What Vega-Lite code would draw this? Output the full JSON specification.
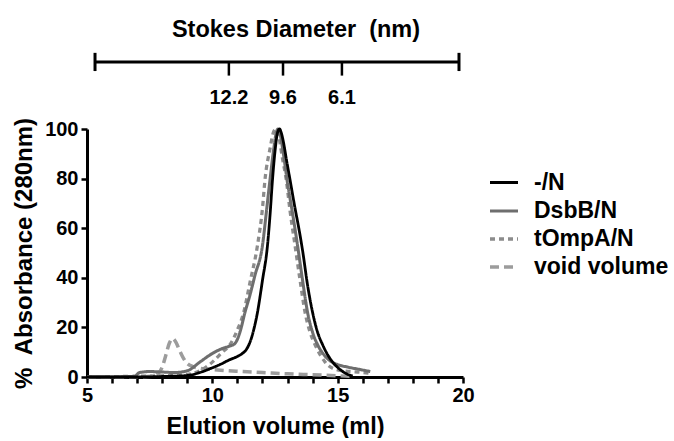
{
  "$schema": "https://vega.github.io/schema/vega-lite/v6.json",
  "background": "white",
  "padding": {"left": 12, "top": 17, "right": 0, "bottom": 0},
  "config": {
    "font": "Liberation Sans",
    "view": {"stroke": null},
    "axis": {
      "grid": false,
      "domainColor": "black",
      "domainWidth": 3,
      "tickColor": "black",
      "tickWidth": 2.5,
      "tickSize": 6,
      "labelColor": "black",
      "labelFont": "Liberation Sans",
      "labelFontWeight": "bold",
      "labelFontSize": 20,
      "titleColor": "black",
      "titleFont": "Liberation Sans",
      "titleFontWeight": "bold",
      "titleFontSize": 23
    }
  },
  "datasets": {
    "curves": [
      {"s": "void volume", "v": 5, "a": 0},
      {"s": "void volume", "v": 6, "a": 0},
      {"s": "void volume", "v": 7, "a": 0.1},
      {"s": "void volume", "v": 7.6, "a": 0.3},
      {"s": "void volume", "v": 7.85, "a": 1.5},
      {"s": "void volume", "v": 8.0, "a": 4},
      {"s": "void volume", "v": 8.15, "a": 9},
      {"s": "void volume", "v": 8.28, "a": 13.5},
      {"s": "void volume", "v": 8.42, "a": 15.5},
      {"s": "void volume", "v": 8.55, "a": 14},
      {"s": "void volume", "v": 8.7, "a": 10.5},
      {"s": "void volume", "v": 8.85, "a": 7.5},
      {"s": "void volume", "v": 9.0, "a": 5.5},
      {"s": "void volume", "v": 9.2, "a": 4.3},
      {"s": "void volume", "v": 9.5, "a": 3.5},
      {"s": "void volume", "v": 10.0, "a": 3},
      {"s": "void volume", "v": 11.0, "a": 2.3},
      {"s": "void volume", "v": 12.0, "a": 1.8},
      {"s": "void volume", "v": 13.0, "a": 1.3},
      {"s": "void volume", "v": 14.0, "a": 0.9},
      {"s": "void volume", "v": 15.0, "a": 0.5},
      {"s": "void volume", "v": 15.5, "a": 0.3},

      {"s": "tOmpA/N", "v": 5, "a": 0},
      {"s": "tOmpA/N", "v": 7, "a": 0.3},
      {"s": "tOmpA/N", "v": 8, "a": 0.5},
      {"s": "tOmpA/N", "v": 9, "a": 1},
      {"s": "tOmpA/N", "v": 9.5, "a": 2.5},
      {"s": "tOmpA/N", "v": 10, "a": 6},
      {"s": "tOmpA/N", "v": 10.4, "a": 10},
      {"s": "tOmpA/N", "v": 10.7, "a": 13},
      {"s": "tOmpA/N", "v": 11.0, "a": 19},
      {"s": "tOmpA/N", "v": 11.25, "a": 26},
      {"s": "tOmpA/N", "v": 11.5, "a": 38},
      {"s": "tOmpA/N", "v": 11.8, "a": 53},
      {"s": "tOmpA/N", "v": 12.0, "a": 68},
      {"s": "tOmpA/N", "v": 12.1, "a": 79.5},
      {"s": "tOmpA/N", "v": 12.3, "a": 92},
      {"s": "tOmpA/N", "v": 12.45, "a": 99},
      {"s": "tOmpA/N", "v": 12.55, "a": 100},
      {"s": "tOmpA/N", "v": 12.65, "a": 97},
      {"s": "tOmpA/N", "v": 12.8, "a": 88},
      {"s": "tOmpA/N", "v": 12.95, "a": 79.5},
      {"s": "tOmpA/N", "v": 13.1, "a": 67},
      {"s": "tOmpA/N", "v": 13.3, "a": 53},
      {"s": "tOmpA/N", "v": 13.5, "a": 39},
      {"s": "tOmpA/N", "v": 13.7, "a": 26},
      {"s": "tOmpA/N", "v": 13.9, "a": 18},
      {"s": "tOmpA/N", "v": 14.1, "a": 13},
      {"s": "tOmpA/N", "v": 14.3, "a": 9},
      {"s": "tOmpA/N", "v": 14.5, "a": 6},
      {"s": "tOmpA/N", "v": 14.8, "a": 3.5},
      {"s": "tOmpA/N", "v": 15.2, "a": 2.5},
      {"s": "tOmpA/N", "v": 15.8, "a": 2},
      {"s": "tOmpA/N", "v": 16.3, "a": 1.5},

      {"s": "DsbB/N", "v": 5, "a": 0},
      {"s": "DsbB/N", "v": 6, "a": 0},
      {"s": "DsbB/N", "v": 6.9, "a": 0.3},
      {"s": "DsbB/N", "v": 7.1, "a": 1.8},
      {"s": "DsbB/N", "v": 7.5, "a": 2.2},
      {"s": "DsbB/N", "v": 8.0, "a": 2},
      {"s": "DsbB/N", "v": 8.5, "a": 1.8},
      {"s": "DsbB/N", "v": 9.0, "a": 2.5},
      {"s": "DsbB/N", "v": 9.5, "a": 6},
      {"s": "DsbB/N", "v": 10.0, "a": 9.5},
      {"s": "DsbB/N", "v": 10.4, "a": 11.5},
      {"s": "DsbB/N", "v": 10.7, "a": 12.5},
      {"s": "DsbB/N", "v": 10.9, "a": 13.5},
      {"s": "DsbB/N", "v": 11.1, "a": 18},
      {"s": "DsbB/N", "v": 11.3, "a": 26},
      {"s": "DsbB/N", "v": 11.5, "a": 33},
      {"s": "DsbB/N", "v": 11.7, "a": 41},
      {"s": "DsbB/N", "v": 12.0, "a": 53},
      {"s": "DsbB/N", "v": 12.15, "a": 66},
      {"s": "DsbB/N", "v": 12.3, "a": 79.5},
      {"s": "DsbB/N", "v": 12.45, "a": 92},
      {"s": "DsbB/N", "v": 12.55, "a": 98.5},
      {"s": "DsbB/N", "v": 12.62, "a": 100},
      {"s": "DsbB/N", "v": 12.7, "a": 98},
      {"s": "DsbB/N", "v": 12.85, "a": 89},
      {"s": "DsbB/N", "v": 12.98, "a": 79.5},
      {"s": "DsbB/N", "v": 13.2, "a": 66},
      {"s": "DsbB/N", "v": 13.4, "a": 53},
      {"s": "DsbB/N", "v": 13.6, "a": 39},
      {"s": "DsbB/N", "v": 13.8, "a": 26},
      {"s": "DsbB/N", "v": 14.0, "a": 18},
      {"s": "DsbB/N", "v": 14.2, "a": 13},
      {"s": "DsbB/N", "v": 14.45, "a": 9},
      {"s": "DsbB/N", "v": 14.7, "a": 6.5},
      {"s": "DsbB/N", "v": 15.0, "a": 5},
      {"s": "DsbB/N", "v": 15.4, "a": 4},
      {"s": "DsbB/N", "v": 15.9, "a": 3},
      {"s": "DsbB/N", "v": 16.3, "a": 2.2},

      {"s": "-/N", "v": 5, "a": 0},
      {"s": "-/N", "v": 6, "a": 0},
      {"s": "-/N", "v": 7, "a": 0},
      {"s": "-/N", "v": 8, "a": 0.2},
      {"s": "-/N", "v": 9, "a": 0.6},
      {"s": "-/N", "v": 9.5, "a": 1.8},
      {"s": "-/N", "v": 9.9, "a": 3.3},
      {"s": "-/N", "v": 10.3, "a": 5},
      {"s": "-/N", "v": 10.7, "a": 7},
      {"s": "-/N", "v": 11.0, "a": 8.3},
      {"s": "-/N", "v": 11.2, "a": 9.5},
      {"s": "-/N", "v": 11.35, "a": 11},
      {"s": "-/N", "v": 11.5, "a": 14},
      {"s": "-/N", "v": 11.65, "a": 19},
      {"s": "-/N", "v": 11.8, "a": 26},
      {"s": "-/N", "v": 12.0, "a": 39},
      {"s": "-/N", "v": 12.2, "a": 53},
      {"s": "-/N", "v": 12.3, "a": 65},
      {"s": "-/N", "v": 12.4, "a": 79.5},
      {"s": "-/N", "v": 12.5, "a": 91},
      {"s": "-/N", "v": 12.6, "a": 98.5},
      {"s": "-/N", "v": 12.68, "a": 100},
      {"s": "-/N", "v": 12.75, "a": 98.5},
      {"s": "-/N", "v": 12.85, "a": 94},
      {"s": "-/N", "v": 12.95, "a": 88},
      {"s": "-/N", "v": 13.1, "a": 79.5},
      {"s": "-/N", "v": 13.3, "a": 68},
      {"s": "-/N", "v": 13.45, "a": 60},
      {"s": "-/N", "v": 13.6, "a": 51},
      {"s": "-/N", "v": 13.8, "a": 37},
      {"s": "-/N", "v": 14.0, "a": 26},
      {"s": "-/N", "v": 14.2, "a": 18},
      {"s": "-/N", "v": 14.4, "a": 13},
      {"s": "-/N", "v": 14.6, "a": 9},
      {"s": "-/N", "v": 14.8, "a": 6},
      {"s": "-/N", "v": 15.1, "a": 3},
      {"s": "-/N", "v": 15.35, "a": 1.3},
      {"s": "-/N", "v": 15.6, "a": 0.4}
    ],
    "stokes": [
      {"v": 10.66, "d": "12.2"},
      {"v": 12.82, "d": "9.6"},
      {"v": 15.17, "d": "6.1"}
    ],
    "stokesEnds": [{"v": 5.32}, {"v": 19.84}],
    "stokesSpan": [{"from": 5.32, "to": 19.84}]
  },
  "bounds": "flush",
  "spacing": 17,
  "vconcat": [
    {
      "width": 376,
      "height": 65,
      "title": {
        "text": "Stokes Diameter\u00a0 (nm)",
        "font": "Liberation Sans",
        "fontSize": 23.5,
        "fontWeight": "bold",
        "color": "black",
        "anchor": "middle",
        "dx": 21,
        "offset": -13,
        "baseline": "alphabetic"
      },
      "layer": [
        {
          "data": {"name": "stokesSpan"},
          "mark": {"type": "rule", "color": "black", "strokeWidth": 3},
          "encoding": {
            "x": {"field": "from", "type": "quantitative", "scale": {"domain": [5, 20], "nice": false}, "axis": null},
            "x2": {"field": "to"},
            "y": {"datum": 0.77, "type": "quantitative", "scale": {"domain": [0, 1], "nice": false}, "axis": null}
          }
        },
        {
          "data": {"name": "stokesEnds"},
          "mark": {"type": "rule", "color": "black", "strokeWidth": 3},
          "encoding": {
            "x": {"field": "v", "type": "quantitative", "scale": {"domain": [5, 20], "nice": false}, "axis": null},
            "y": {"datum": 0.91, "type": "quantitative", "scale": {"domain": [0, 1], "nice": false}, "axis": null},
            "y2": {"datum": 0.63}
          }
        },
        {
          "data": {"name": "stokes"},
          "mark": {"type": "rule", "color": "black", "strokeWidth": 2.5},
          "encoding": {
            "x": {"field": "v", "type": "quantitative", "scale": {"domain": [5, 20], "nice": false}, "axis": null},
            "y": {"datum": 0.77, "type": "quantitative", "scale": {"domain": [0, 1], "nice": false}, "axis": null},
            "y2": {"datum": 0.56}
          }
        },
        {
          "data": {"name": "stokes"},
          "mark": {"type": "text", "font": "Liberation Sans", "fontSize": 20, "fontWeight": "bold", "color": "black", "baseline": "middle", "align": "center"},
          "encoding": {
            "x": {"field": "v", "type": "quantitative", "scale": {"domain": [5, 20], "nice": false}, "axis": null},
            "y": {"datum": 0.21, "type": "quantitative", "scale": {"domain": [0, 1], "nice": false}, "axis": null},
            "text": {"field": "d"}
          }
        }
      ]
    },
    {
      "width": 376,
      "height": 248,
      "data": {"name": "curves"},
      "mark": {"type": "line", "interpolate": "monotone", "strokeCap": "butt"},
      "encoding": {
        "x": {
          "field": "v",
          "type": "quantitative",
          "scale": {"domain": [5, 20], "nice": false},
          "axis": {
            "values": [5, 6, 7, 8, 9, 10, 11, 12, 13, 14, 15, 16, 17, 18, 19, 20],
            "labelExpr": "datum.value % 5 === 0 ? datum.label : ''",
            "title": "Elution volume (ml)",
            "titleFontSize": 23.5,
            "labelPadding": 2,
            "titlePadding": 9,
            "labelFlush": false
          }
        },
        "y": {
          "field": "a",
          "type": "quantitative",
          "scale": {"domain": [0, 100], "nice": false},
          "axis": {
            "values": [0, 20, 40, 60, 80, 100],
            "title": "%\u00a0 Absorbance (280nm)",
            "titleFontSize": 24,
            "labelPadding": 3,
            "titlePadding": 8
          }
        },
        "color": {
          "field": "s",
          "type": "nominal",
          "scale": {
            "domain": ["-/N", "DsbB/N", "tOmpA/N", "void volume"],
            "range": ["#000000", "#6e6e6e", "#8c8c8c", "#9c9c9c"]
          },
          "legend": {
            "orient": "none",
            "legendX": 401,
            "legendY": 120,
            "title": null,
            "labelFont": "Liberation Sans",
            "labelFontSize": 23,
            "labelFontWeight": "bold",
            "labelColor": "black",
            "symbolType": "stroke",
            "symbolSize": 784,
            "symbolStrokeWidth": 3,
            "labelOffset": 14,
            "rowPadding": 0
          }
        },
        "strokeDash": {
          "field": "s",
          "type": "nominal",
          "scale": {
            "domain": ["-/N", "DsbB/N", "tOmpA/N", "void volume"],
            "range": [[1, 0], [1, 0], [5, 4], [9, 5]]
          },
          "legend": {
            "orient": "none",
            "legendX": 401,
            "legendY": 120,
            "title": null,
            "labelFont": "Liberation Sans",
            "labelFontSize": 23,
            "labelFontWeight": "bold",
            "labelColor": "black",
            "symbolType": "stroke",
            "symbolSize": 784,
            "symbolStrokeWidth": 3,
            "labelOffset": 14,
            "rowPadding": 0
          }
        },
        "strokeWidth": {
          "field": "s",
          "type": "nominal",
          "scale": {
            "domain": ["-/N", "DsbB/N", "tOmpA/N", "void volume"],
            "range": [2.8, 3.5, 3.5, 2.5]
          },
          "legend": null
        }
      }
    }
  ]
}
